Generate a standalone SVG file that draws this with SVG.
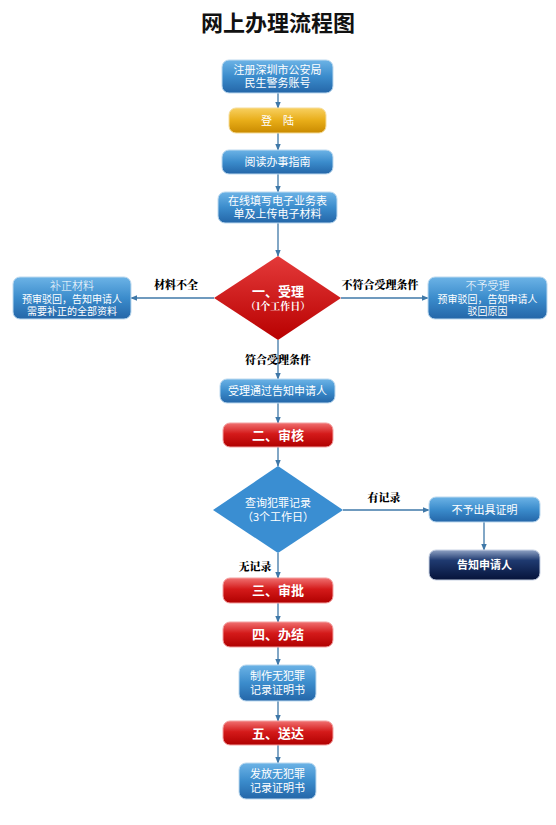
<svg xmlns="http://www.w3.org/2000/svg" width="556" height="825" viewBox="0 0 556 825">
<defs>
<linearGradient id="gBlue" x1="0" y1="0" x2="0" y2="1">
<stop offset="0" stop-color="#6cb3e6"/><stop offset="0.5" stop-color="#3b8ccc"/><stop offset="1" stop-color="#2466a8"/>
</linearGradient>
<linearGradient id="gRed" x1="0" y1="0" x2="0" y2="1">
<stop offset="0" stop-color="#f07070"/><stop offset="0.45" stop-color="#d41a1a"/><stop offset="1" stop-color="#b00000"/>
</linearGradient>
<linearGradient id="gGold" x1="0" y1="0" x2="0" y2="1">
<stop offset="0" stop-color="#f8d060"/><stop offset="0.5" stop-color="#e8ad18"/><stop offset="1" stop-color="#c98a00"/>
</linearGradient>
<linearGradient id="gNavy" x1="0" y1="0" x2="0" y2="1">
<stop offset="0" stop-color="#8fa2c4"/><stop offset="0.35" stop-color="#1f3a70"/><stop offset="1" stop-color="#06133a"/>
</linearGradient>
<linearGradient id="gDiaRed" x1="0" y1="0" x2="0" y2="1">
<stop offset="0" stop-color="#e43a3a"/><stop offset="1" stop-color="#b80000"/>
</linearGradient>
<marker id="arr" viewBox="0 0 10 10" refX="9" refY="5" markerWidth="7" markerHeight="7" orient="auto" markerUnits="userSpaceOnUse">
<path d="M0,1 L10,5 L0,9 z" fill="#3f78a8"/>
</marker>
<style>
.bx{fill:url(#gBlue);stroke:#bcd9ef;stroke-width:1}
.rd{fill:url(#gRed);stroke:#f3a0a0;stroke-width:1}
.t{font-family:"Noto Sans CJK SC","Noto Sans",sans-serif;fill:#fff;text-anchor:middle;font-size:11px}
.ts{font-family:"Noto Sans CJK SC","Noto Sans",sans-serif;fill:#fff;text-anchor:middle;font-size:10px}
.tb{font-family:"Noto Sans CJK SC","Noto Sans",sans-serif;fill:#fff;text-anchor:middle;font-size:13px;font-weight:bold}
.lb{font-family:"Noto Serif CJK SC","Noto Sans CJK SC",serif;fill:#000;text-anchor:middle;font-size:11px;font-weight:900}
.ln{stroke:#3f78a8;stroke-width:1.3;fill:none;marker-end:url(#arr)}
</style>
</defs>
<rect width="556" height="825" fill="#fff"/>
<text x="278" y="31" font-family="'Noto Sans CJK SC',sans-serif" font-size="22" font-weight="bold" text-anchor="middle" fill="#111">网上办理流程图</text>

<g id="connectors">
<line class="ln" x1="278" y1="93" x2="278" y2="108"/>
<line class="ln" x1="278" y1="133" x2="278" y2="150"/>
<line class="ln" x1="278" y1="174" x2="278" y2="192"/>
<line class="ln" x1="278" y1="223" x2="278" y2="256"/>
<line class="ln" x1="214" y1="298" x2="131" y2="298"/>
<line class="ln" x1="341" y1="298" x2="428" y2="298"/>
<line class="ln" x1="278" y1="340" x2="278" y2="379"/>
<line class="ln" x1="278" y1="403" x2="278" y2="423"/>
<line class="ln" x1="278" y1="447" x2="278" y2="466"/>
<line class="ln" x1="343" y1="510" x2="429" y2="510"/>
<line class="ln" x1="484" y1="522" x2="484" y2="550"/>
<line class="ln" x1="278" y1="553" x2="278" y2="578"/>
<line class="ln" x1="278" y1="603" x2="278" y2="622"/>
<line class="ln" x1="278" y1="647" x2="278" y2="665"/>
<line class="ln" x1="278" y1="701" x2="278" y2="721"/>
<line class="ln" x1="278" y1="745" x2="278" y2="763"/>
<text class="lb" x="176" y="289">材料不全</text>
<text class="lb" x="380" y="289">不符合受理条件</text>
<text class="lb" x="278" y="364">符合受理条件</text>
<text class="lb" x="384" y="502">有记录</text>
<text class="lb" x="255" y="571">无记录</text>
</g>

<g id="n1"><rect class="bx" x="222" y="60" width="111" height="33" rx="7"/>
<text class="t" x="277.5" y="74">注册深圳市公安局</text><text class="t" x="277.5" y="87">民生警务账号</text></g>

<g id="n2"><rect x="229" y="108" width="97" height="25" rx="7" fill="url(#gGold)" stroke="#f5dc9a"/>
<text class="t" x="277.5" y="125" font-size="12">登　陆</text></g>

<g id="n3"><rect class="bx" x="222" y="150" width="111" height="24" rx="7"/>
<text class="t" x="277.5" y="166">阅读办事指南</text></g>

<g id="n4"><rect class="bx" x="218" y="192" width="119" height="31" rx="7"/>
<text class="t" x="277.5" y="205">在线填写电子业务表</text><text class="t" x="277.5" y="218">单及上传电子材料</text></g>

<g id="d1"><polygon points="278,256 341,298 278,340 214,298" fill="url(#gDiaRed)"/>
<text class="tb" x="278" y="296">一、受理</text>
<text x="278" y="310" font-family="'Noto Serif CJK SC','Noto Sans CJK SC',serif" font-size="10" font-weight="bold" fill="#fff" text-anchor="middle">（1个工作日）</text></g>

<g id="nL"><rect class="bx" x="13" y="277" width="118" height="42" rx="7"/>
<text class="t" x="72" y="290" font-size="13" font-weight="300">补正材料</text>
<text class="ts" x="72" y="303">预审驳回，告知申请人</text><text class="ts" x="72" y="315">需要补正的全部资料</text></g>

<g id="nR"><rect class="bx" x="428" y="277" width="119" height="42" rx="7"/>
<text class="t" x="487.5" y="290" font-size="13" font-weight="300">不予受理</text>
<text class="ts" x="487.5" y="303">预审驳回，告知申请人</text><text class="ts" x="487.5" y="315">驳回原因</text></g>

<g id="n5"><rect class="bx" x="220" y="379" width="115" height="24" rx="7"/>
<text class="t" x="277.5" y="395">受理通过告知申请人</text></g>

<g id="n6"><rect class="rd" x="223" y="423" width="110" height="24" rx="7"/>
<text class="tb" x="278" y="440">二、审核</text></g>

<g id="d2"><polygon points="278,466 343,510 278,553 213,510" fill="#3a8ed2"/>
<text class="t" x="278" y="507">查询犯罪记录</text>
<text class="t" x="278" y="521">（3个工作日）</text></g>

<g id="n7"><rect class="bx" x="429" y="497" width="111" height="25" rx="7"/>
<text class="t" x="484.5" y="514">不予出具证明</text></g>

<g id="n8"><rect x="429" y="550" width="111" height="30" rx="7" fill="url(#gNavy)" stroke="#c8d2e4"/>
<text class="t" x="484.5" y="569" font-weight="bold" font-size="12">告知申请人</text></g>

<g id="n9"><rect class="rd" x="223" y="578" width="110" height="25" rx="7"/>
<text class="tb" x="278" y="595">三、审批</text></g>

<g id="n10"><rect class="rd" x="223" y="622" width="110" height="25" rx="7"/>
<text class="tb" x="278" y="639">四、办结</text></g>

<g id="n11"><rect class="bx" x="239" y="665" width="77" height="36" rx="7"/>
<text class="t" x="277.5" y="680">制作无犯罪</text><text class="t" x="277.5" y="694">记录证明书</text></g>

<g id="n12"><rect class="rd" x="223" y="721" width="110" height="24" rx="7"/>
<text class="tb" x="278" y="738">五、送达</text></g>

<g id="n13"><rect class="bx" x="239" y="763" width="77" height="36" rx="7"/>
<text class="t" x="277.5" y="778">发放无犯罪</text><text class="t" x="277.5" y="792">记录证明书</text></g>
</svg>
